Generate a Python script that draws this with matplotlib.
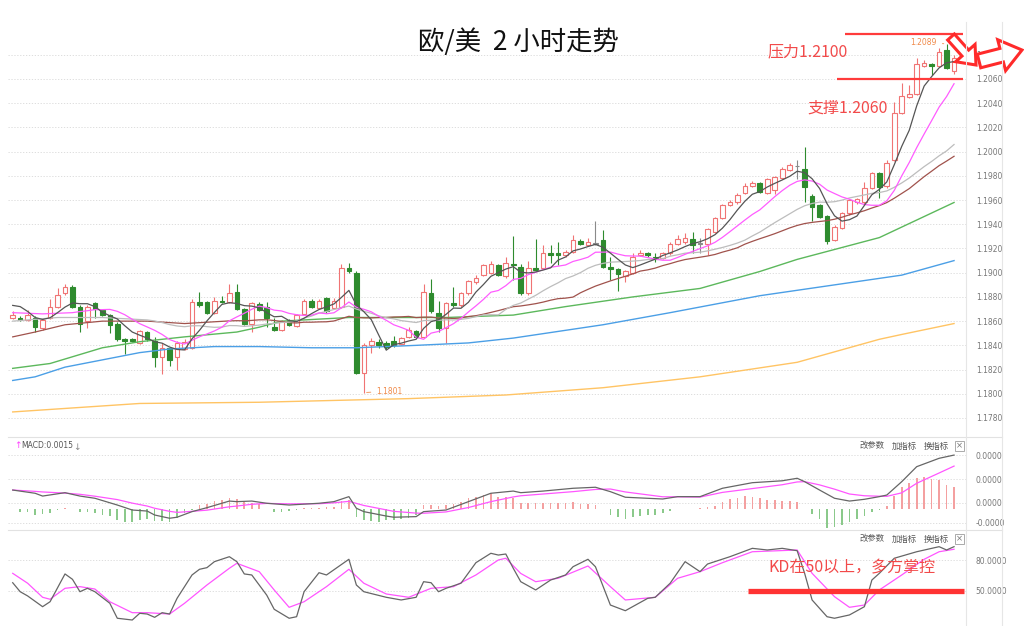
import numpy as np
import pandas as pd
import matplotlib
matplotlib.use('Agg')
import matplotlib.pyplot as plt
from matplotlib.patches import Rectangle, FancyArrow
from matplotlib.lines import Line2D

plt.rcParams['font.family'] = ['Noto Sans CJK SC', 'DejaVu Sans']

W, H = 1024, 626


def fx(x):                                   # 像素 -> 画布比例
    return x / W


def fy(y):
    return 1 - y / H


# 欧/美 2小时K线 (开 高 低 收)
opens = [1.1863, 1.1863, 1.1861, 1.1863, 1.1854, 1.1863, 1.1872, 1.1883, 1.1888, 1.1872,
         1.1860, 1.1875, 1.1869, 1.1865, 1.1858, 1.1845, 1.1845, 1.1842, 1.1851, 1.1844,
         1.1830, 1.1838, 1.1830, 1.1837, 1.1838, 1.1876, 1.1876, 1.1867, 1.1877, 1.1876,
         1.1884, 1.1870, 1.1858, 1.1874, 1.1872, 1.1855, 1.1853, 1.1861, 1.1856, 1.1866,
         1.1877, 1.1871, 1.1879, 1.1871, 1.1872, 1.1904, 1.1900, 1.1817, 1.1840, 1.1843,
         1.1842, 1.1844, 1.1841, 1.1847, 1.1852, 1.1847, 1.1883, 1.1867, 1.1854, 1.1875,
         1.1873, 1.1883, 1.1892, 1.1898, 1.1900, 1.1906, 1.1897, 1.1907, 1.1905, 1.1883,
         1.1904, 1.1904, 1.1916, 1.1916, 1.1915, 1.1917, 1.1926, 1.1923, 1.1924, 1.1927,
         1.1905, 1.1903, 1.1897, 1.1900, 1.1915, 1.1916, 1.1913, 1.1912, 1.1916, 1.1924,
         1.1925, 1.1928, 1.1924, 1.1924, 1.1934, 1.1945, 1.1956, 1.1958, 1.1966, 1.1972,
         1.1974, 1.1966, 1.1968, 1.1978, 1.1985, 1.1988, 1.1986, 1.1963, 1.1956, 1.1947,
         1.1927, 1.1937, 1.1949, 1.1958, 1.1958, 1.1970, 1.1982, 1.1972, 1.1993, 1.2032,
         1.2045, 1.2048, 1.2071, 1.2072, 1.2071, 1.2084, 1.2067]
highs = [1.1868, 1.1864, 1.1869, 1.1864, 1.1862, 1.1878, 1.1887, 1.1891, 1.1890, 1.1873,
         1.1873, 1.1876, 1.1870, 1.1866, 1.1859, 1.1846, 1.1846, 1.1853, 1.1852, 1.1847,
         1.1842, 1.1839, 1.1844, 1.1845, 1.1878, 1.1884, 1.1877, 1.1880, 1.1881, 1.1891,
         1.1891, 1.1871, 1.1876, 1.1876, 1.1876, 1.1863, 1.1861, 1.1862, 1.1866, 1.1878,
         1.1878, 1.1878, 1.1880, 1.1879, 1.1907, 1.1908, 1.1901, 1.1842, 1.1846, 1.1845,
         1.1844, 1.1848, 1.1847, 1.1855, 1.1853, 1.1891, 1.1895, 1.1877, 1.1876, 1.1888,
         1.1884, 1.1894, 1.1898, 1.1907, 1.1910, 1.1907, 1.1913, 1.1930, 1.1907, 1.1910,
         1.1928, 1.1923, 1.1923, 1.1925, 1.1919, 1.1931, 1.1928, 1.1929, 1.1943, 1.1935,
         1.1913, 1.1904, 1.1902, 1.1916, 1.1919, 1.1917, 1.1916, 1.1917, 1.1925, 1.1931,
         1.1933, 1.1934, 1.1929, 1.1937, 1.1946, 1.1957, 1.1960, 1.1966, 1.1974, 1.1976,
         1.1975, 1.1978, 1.1980, 1.1987, 1.1991, 1.1993, 1.2004, 1.1965, 1.1957, 1.1948,
         1.1939, 1.1950, 1.1961, 1.1962, 1.1975, 1.1983, 1.1983, 1.1993, 1.2041, 1.2057,
         1.2055, 1.2077, 1.2076, 1.2073, 1.2086, 1.2089, 1.2080]
lows = [1.1862, 1.1860, 1.1860, 1.1851, 1.1853, 1.1862, 1.1871, 1.1882, 1.1871, 1.1851,
        1.1854, 1.1863, 1.1864, 1.1850, 1.1844, 1.1833, 1.1843, 1.1841, 1.1844, 1.1822,
        1.1816, 1.1823, 1.1820, 1.1836, 1.1837, 1.1872, 1.1866, 1.1866, 1.1875, 1.1875,
        1.1869, 1.1857, 1.1851, 1.1868, 1.1855, 1.1852, 1.1852, 1.1856, 1.1855, 1.1865,
        1.1871, 1.1870, 1.1867, 1.1870, 1.1871, 1.1900, 1.1816, 1.1801, 1.1834, 1.1838,
        1.1837, 1.1839, 1.1840, 1.1846, 1.1846, 1.1846, 1.1867, 1.1851, 1.1842, 1.1872,
        1.1872, 1.1882, 1.1891, 1.1897, 1.1899, 1.1897, 1.1896, 1.1894, 1.1882, 1.1882,
        1.1901, 1.1903, 1.1908, 1.1906, 1.1913, 1.1916, 1.1923, 1.1922, 1.1923, 1.1904,
        1.1894, 1.1885, 1.1892, 1.1899, 1.1914, 1.1913, 1.1909, 1.1911, 1.1915, 1.1923,
        1.1924, 1.1916, 1.1916, 1.1915, 1.1933, 1.1944, 1.1955, 1.1957, 1.1965, 1.1971,
        1.1966, 1.1965, 1.1965, 1.1977, 1.1984, 1.1977, 1.1958, 1.1943, 1.1945, 1.1924,
        1.1926, 1.1936, 1.1948, 1.1957, 1.1957, 1.1969, 1.1962, 1.1970, 1.1992, 1.2031,
        1.2044, 1.2047, 1.2070, 1.2063, 1.2070, 1.2068, 1.2064]
closes = [1.1865, 1.1861, 1.1865, 1.1855, 1.1861, 1.1872, 1.1882, 1.1888, 1.1872, 1.1858,
          1.1872, 1.1870, 1.1865, 1.1857, 1.1845, 1.1844, 1.1844, 1.1852, 1.1845, 1.1830,
          1.1838, 1.1828, 1.1842, 1.1843, 1.1876, 1.1873, 1.1867, 1.1877, 1.1876, 1.1883,
          1.1870, 1.1858, 1.1875, 1.1869, 1.1863, 1.1853, 1.1860, 1.1857, 1.1865, 1.1877,
          1.1872, 1.1877, 1.1868, 1.1877, 1.1904, 1.1901, 1.1817, 1.1840, 1.1844, 1.1840,
          1.1839, 1.1840, 1.1846, 1.1853, 1.1847, 1.1884, 1.1868, 1.1854, 1.1875, 1.1873,
          1.1883, 1.1893, 1.1896, 1.1906, 1.1907, 1.1898, 1.1908, 1.1906, 1.1883, 1.1904,
          1.1902, 1.1916, 1.1915, 1.1915, 1.1917, 1.1927, 1.1924, 1.1925, 1.1924, 1.1905,
          1.1903, 1.1899, 1.1901, 1.1913, 1.1916, 1.1915, 1.1911, 1.1916, 1.1924, 1.1928,
          1.1929, 1.1923, 1.1924, 1.1936, 1.1945, 1.1956, 1.1958, 1.1964, 1.1972, 1.1974,
          1.1967, 1.1977, 1.1979, 1.1986, 1.1989, 1.1988, 1.1971, 1.1954, 1.1946, 1.1926,
          1.1938, 1.1949, 1.1960, 1.1961, 1.1970, 1.1982, 1.1971, 1.1991, 1.2032, 1.2046,
          1.2048, 1.2072, 1.2073, 1.2071, 1.2082, 1.2069, 1.2077]

# 短均线开头部分 (窗口未满, 从图上读取)
ma5_head_idx, ma5_head = [0, 1, 2, 3], [1.1873, 1.1872, 1.1868, 1.1863]
ma10_head_idx, ma10_head = [0, 4, 8], [1.1867, 1.1866, 1.1867]
ma20_head_idx, ma20_head = [0, 6, 12, 18], [1.1860, 1.1863, 1.1863, 1.1861]
ma30_head_idx, ma30_head = [0, 3, 7, 12, 18, 23], [1.1847, 1.1851, 1.1857, 1.1860, 1.1860, 1.1858]

# 长周期均线 (从图上读取的点)
ma60_idx = [0, 5, 12, 17, 23, 30, 33, 36, 45, 58, 67, 74, 83, 92, 100, 105, 116, 126]
ma60_val = [1.1821, 1.1825, 1.1838, 1.1843, 1.1847, 1.1851, 1.1855, 1.1860, 1.1863, 1.1863,
            1.1865, 1.1872, 1.1880, 1.1887, 1.1901, 1.1911, 1.1929, 1.1958]
ma120_idx = [0, 3, 7, 12, 17, 21, 27, 33, 40, 46, 54, 61, 67, 79, 88, 100, 119, 126]
ma120_val = [1.1811, 1.1814, 1.1822, 1.1828, 1.1834, 1.1837, 1.1839, 1.1839, 1.1838, 1.1838,
             1.1840, 1.1842, 1.1846, 1.1857, 1.1867, 1.1881, 1.1898, 1.1910]
ma250_idx = [0, 17, 33, 53, 66, 79, 92, 105, 116, 119, 126]
ma250_val = [1.1785, 1.1792, 1.1793, 1.1796, 1.1799, 1.1805, 1.1814, 1.1826, 1.1845, 1.1849, 1.1858]

# MACD (单位 0.0001)
macd_hist = [0, -1.8, -2.0, -4.1, -3.4, -2.7, -0.7, 0.7, 0, -2.0,
             -2.0, -2.7, -4.1, -4.8, -7.5, -8.8, -8.8, -7.5, -6.8, -8.2,
             -8.2, -8.8, -6.1, -2.7, -0.7, 2.7, 3.4, 5.4, 6.1, 7.5,
             6.8, 4.8, 4.1, 3.4, 0, -2.0, -2.0, -1.4, -0.7, 0.7,
             0.7, 0.7, 1.4, 1.4, 5.4, 6.1, -5.4, -7.5, -8.2, -8.8,
             -7.5, -7.5, -6.8, -6.1, -4.1, 2.7, 2.7, 2.0, 2.7, 3.4,
             4.8, 7.5, 8.2, 9.5, 10.9, 8.2, 8.2, 7.5, 4.1, 4.1,
             4.1, 4.1, 4.1, 4.1, 4.1, 4.8, 3.4, 3.4, 2.7, 0,
             -4.1, -5.4, -6.8, -5.4, -4.8, -4.1, -4.1, -2.7, -1.4, 0,
             0.3, 0, 0.7, 1.4, 2.0, 4.8, 6.8, 7.5, 8.8, 8.2,
             7.5, 6.1, 6.1, 5.4, 5.4, 4.8, 0, -3.4, -6.8, -12.9,
             -12.2, -10.9, -8.8, -6.8, -4.8, -2.0, -0.7, 2.0, 8.8, 15.0,
             17.7, 21.1, 21.8, 20.4, 19.7, 16.3, 15.0]
line_idx = [0, 3, 4, 7, 9, 11, 14, 16, 18, 19, 21, 22, 24, 26, 29, 30, 32, 34, 37, 41,
            43, 45, 46, 47, 50, 51, 54, 55, 58, 61, 64, 67, 68, 71, 75, 78, 80, 82, 87, 89,
            92, 95, 99, 103, 105, 106, 108, 110, 112, 114, 116, 117, 119, 121, 124, 126]
dif = [12.9, 10.7, 8.8, 11.1, 8.8, 7.3, 2.7, -0.7, -1.4, -4.1, -6.3, -5.6, -1.8, 0.9, 5.4, 5.0, 5.4, 3.9, 2.7, 3.9,
       5.0, 8.4, 0.5, -1.8, -4.8, -5.6, -5.2, -1.8, -0.7, 5.0, 10.7, 12.2, 11.1, 12.2, 14.1, 14.8, 11.8, 8.0, 6.8, 8.4,
       8.4, 14.1, 17.9, 19.2, 20.9, 18.6, 12.9, 7.3, 5.4, 6.6, 8.4, 9.5, 18.6, 28.8, 34.5, 36.7]
dea = [12.9, 12.0, 11.6, 10.8, 10.0, 8.7, 6.4, 4.0, 2.0, 0.5, -1.6, -2.3, -1.6, -0.8, 1.5, 2.0, 3.2, 3.8, 3.5, 3.6,
       4.2, 5.2, 3.8, 2.4, -0.6, -1.6, -2.8, -2.9, -2.0, 1.0, 5.0, 8.2, 9.0, 10.2, 11.8, 13.3, 13.6, 11.6, 8.3, 8.3,
       8.1, 11.3, 13.9, 16.5, 18.4, 18.6, 16.4, 13.5, 10.2, 9.0, 8.7, 8.6, 11.0, 17.5, 24.5, 29.2]

# KD
k_idx = [0, 1, 2, 4, 5, 7, 8, 9, 10, 11, 13, 14, 16, 17, 18, 19, 20, 21, 22, 24,
         25, 26, 27, 29, 30, 31, 32, 34, 35, 37, 38, 39, 41, 42, 45, 46, 47, 50, 52, 54,
         55, 56, 57, 58, 60, 62, 64, 65, 66, 67, 68, 70, 72, 74, 75, 77, 78, 80, 82, 85,
         86, 88, 90, 92, 93, 96, 99, 101, 103, 105, 106, 107, 109, 110, 112, 114, 115, 116, 118, 121,
         124, 125, 126]
k_val = [58.0, 49.3, 45.2, 34.8, 39.6, 66.5, 61.3, 49.3, 52.6, 49.3, 38.1, 23.6, 21.9, 28.4, 27.7, 24.5, 29.0, 27.7, 42.9, 65.5,
         71.0, 72.6, 78.4, 83.2, 78.4, 66.5, 65.5, 46.0, 32.3, 23.6, 25.1, 49.3, 67.7, 65.5, 80.7, 55.8, 49.3, 43.9, 41.3, 43.9,
         59.0, 58.0, 49.3, 52.6, 57.5, 77.4, 86.5, 84.8, 85.8, 72.0, 59.0, 51.0, 60.6, 65.5, 73.5, 80.7, 73.5, 36.4, 30.9, 42.9,
         43.9, 57.5, 78.4, 68.7, 76.1, 83.2, 91.3, 89.7, 91.3, 89.0, 67.1, 41.3, 25.1, 23.6, 26.8, 34.8, 60.6, 67.1, 81.7, 88.0,
         92.9, 89.7, 92.9]
d_idx = [0, 2, 4, 5, 7, 9, 11, 13, 16, 18, 21, 23, 26, 29, 30, 33, 35, 37, 39, 42,
         45, 47, 50, 53, 56, 59, 62, 65, 66, 68, 70, 73, 77, 80, 82, 86, 89, 92, 95, 99,
         105, 107, 110, 112, 114, 116, 119, 122, 124, 126]
d_val = [67.1, 57.5, 43.9, 42.0, 52.6, 54.2, 51.9, 39.6, 29.0, 29.0, 27.7, 38.1, 55.8, 72.0, 76.8, 68.7, 51.0, 34.2, 39.6, 54.2,
         71.0, 57.5, 47.1, 43.9, 52.6, 54.2, 65.5, 80.0, 81.7, 67.0, 59.0, 62.3, 74.2, 54.2, 41.3, 43.9, 62.3, 68.7, 77.4, 88.0,
         89.7, 67.1, 44.5, 34.2, 36.4, 51.0, 65.5, 80.7, 88.0, 90.4]

price_ticks = [1.1780, 1.1800, 1.1820, 1.1840, 1.1860, 1.1880, 1.1900, 1.1920,
               1.1940, 1.1960, 1.1980, 1.2000, 1.2020, 1.2040, 1.2060, 1.2080]

n = len(closes)
xs = np.arange(n)
cs = pd.Series(closes)


def ma_line(period, head_idx, head_val):
    full = cs.rolling(period).mean()
    return (list(head_idx) + list(range(period - 1, n)),
            list(head_val) + list(full[period - 1:]))


fig = plt.figure(figsize=(W / 100, H / 100), dpi=100)
fig.patch.set_facecolor('white')
left, right = fx(8), fx(966)
ax = fig.add_axes([left, fy(437), right - left, fy(25) - fy(437)])
ax_m = fig.add_axes([left, fy(530), right - left, fy(437) - fy(530)])
ax_k = fig.add_axes([left, 0, right - left, fy(530)])

for a in (ax, ax_m, ax_k):
    a.set_xlim(-0.63, 127.6)
    a.set_xticks([])
    for s in a.spines.values():
        s.set_visible(False)
    a.yaxis.tick_right()
    a.tick_params(axis='y', length=0, pad=7, labelsize=5.5, labelcolor='#777777',
                  labelfontfamily='DejaVu Sans')
    a.grid(axis='y', color='#d8d8d8', linestyle=(0, (1.5, 2)), lw=0.6)
    a.set_axisbelow(True)

# ---- 主图 K线 ----
UP, DOWN, FLAT = '#f07474', '#2e8b2e', '#8a8a8a'
bw = 0.62
for i in range(n):
    o, h, l, c = opens[i], highs[i], lows[i], closes[i]
    if c > o:
        col, face = UP, 'white'
    elif c < o:
        col, face = DOWN, DOWN
    else:
        col, face = FLAT, FLAT
    ax.vlines(i, l, h, color=col, lw=0.8, zorder=2)
    ax.add_patch(Rectangle((i - bw / 2, min(o, c)), bw, max(abs(c - o), 0.00003),
                           facecolor=face, edgecolor=col, lw=0.8, zorder=3))

ax.plot(ma250_idx, ma250_val, color='#ffc464', lw=1.0, zorder=4)
ax.plot(ma120_idx, ma120_val, color='#4b9fe6', lw=1.0, zorder=4)
ax.plot(ma60_idx, ma60_val, color='#5cb85c', lw=1.0, zorder=4)
ax.plot(*ma_line(30, ma30_head_idx, ma30_head), color='#a0524c', lw=0.9, zorder=4)
ax.plot(*ma_line(20, ma20_head_idx, ma20_head), color='#bdbdbd', lw=0.9, zorder=4)
ax.plot(*ma_line(10, ma10_head_idx, ma10_head), color='#ff5cff', lw=0.9, zorder=4)
ax.plot(*ma_line(5, ma5_head_idx, ma5_head), color='#555555', lw=0.9, zorder=4)

ax.set_ylim(1.17643, 1.21046)
ax.set_yticks(price_ticks)
ax.set_yticklabels(['%.4f' % t for t in price_ticks])

# 最高 / 最低 标注
ax.annotate('1.2089', xy=(125, 1.2089), xytext=(-7, 1), textcoords='offset points',
            ha='right', va='center', fontsize=5.5, color='#f08a4a', family='DejaVu Sans',
            arrowprops=dict(arrowstyle='-', color='#f08a4a', lw=0.6))
ax.annotate('1.1801', xy=(47, 1.1801), xytext=(9, 1), textcoords='offset points',
            ha='left', va='center', fontsize=5.5, color='#f08a4a', family='DejaVu Sans',
            arrowprops=dict(arrowstyle='-', color='#f08a4a', lw=0.6))

# 压力 / 支撑
ax.plot([111.4, 127.2], [1.2097, 1.2097], color='#ff3b3b', lw=1.6, zorder=6, solid_capstyle='butt')
ax.plot([110.3, 127.2], [1.2060, 1.2060], color='#ff3b3b', lw=1.6, zorder=6, solid_capstyle='butt')
fig.text(fx(768), fy(52), '压力1.2100', color='#f24a4a', fontsize=11.5, va='center')
fig.text(fx(807), fy(108), '支撑1.2060', color='#f24a4a', fontsize=11.5, va='center')

# ---- MACD ----
mcol = ['#f4a0a0' if v >= 0 else '#8bc98b' for v in macd_hist]
ax_m.bar(xs, macd_hist, width=0.22, color=mcol, zorder=2)
ax_m.plot(line_idx, dea, color='#ff55ff', lw=0.9, zorder=3)
ax_m.plot(line_idx, dif, color='#666666', lw=0.9, zorder=3)
ax_m.set_ylim(-14.3, 49.0)
ax_m.set_yticks([36.7, 20.4, 4.1, -9.5])
ax_m.set_yticklabels(['0.0000', '0.0000', '0.0000', '-0.0000'])

# ---- KD ----
ax_k.plot(d_idx, d_val, color='#ff55ff', lw=0.9, zorder=3)
ax_k.plot(k_idx, k_val, color='#666666', lw=0.9, zorder=3)
ax_k.plot([98.4, 127.3], [50, 50], color='#ff3333', lw=3.8, zorder=4, solid_capstyle='butt')
ax_k.set_ylim(16.1, 109.05)
ax_k.set_yticks([80, 50])
ax_k.set_yticklabels(['80.0000', '50.0000'])
fig.text(fx(768), fy(568), 'KD在50以上，多方掌控', color='#f24a4a', fontsize=11.5, va='center')

# 分隔线
for y in (437, 530):
    fig.add_artist(Line2D([fx(8), fx(1002)], [fy(y), fy(y)], color='#e2e2e2', lw=0.8))
for x in (966, 1002):
    fig.add_artist(Line2D([fx(x), fx(x)], [fy(22), 0], color='#e6e6e6', lw=0.8))

# 指标栏文字
fig.text(fx(14), fy(446), '↑', color='#ff44ff', fontsize=6.5, va='center', family='DejaVu Sans')
fig.text(fx(21), fy(446), 'MACD:0.0015', color='#555555', fontsize=5.5, va='center', family='DejaVu Sans')
fig.text(fx(73), fy(447), '↓', color='#888888', fontsize=6.5, va='center', family='DejaVu Sans')
for yy in (446, 539):
    for xx, t in ((860, '改参数'), (892, '加指标'), (924, '换指标')):
        fig.text(fx(xx), fy(yy), t, color='#555555', fontsize=6, va='center')
    fig.add_artist(Rectangle((fx(955), fy(yy + 5)), fx(9), 10 / H, transform=fig.transFigure,
                             facecolor='white', edgecolor='#aaaaaa', lw=0.7))
    fig.text(fx(959.5), fy(yy), '×', color='#777777', fontsize=6, ha='center', va='center',
             family='DejaVu Sans')

# 标题
fig.text(fx(518), fy(42), '欧/美  2 小时走势', ha='center', va='center', fontsize=19, color='#111111')

# 红色空心箭头
fig.add_artist(FancyArrow(9.51, 6.26 - 0.37, 0.25, -0.28, width=0.09, head_width=0.26,
                          head_length=0.16, length_includes_head=True, facecolor='white',
                          edgecolor='#ff2a2a', lw=2.2, transform=fig.dpi_scale_trans))
fig.add_artist(FancyArrow(9.79, 6.26 - 0.61, 0.43, 0.11, width=0.14, head_width=0.32,
                          head_length=0.21, length_includes_head=True, facecolor='white',
                          edgecolor='#ff2a2a', lw=2.2, transform=fig.dpi_scale_trans))

fig.savefig('out.png', dpi=100, facecolor='white')
